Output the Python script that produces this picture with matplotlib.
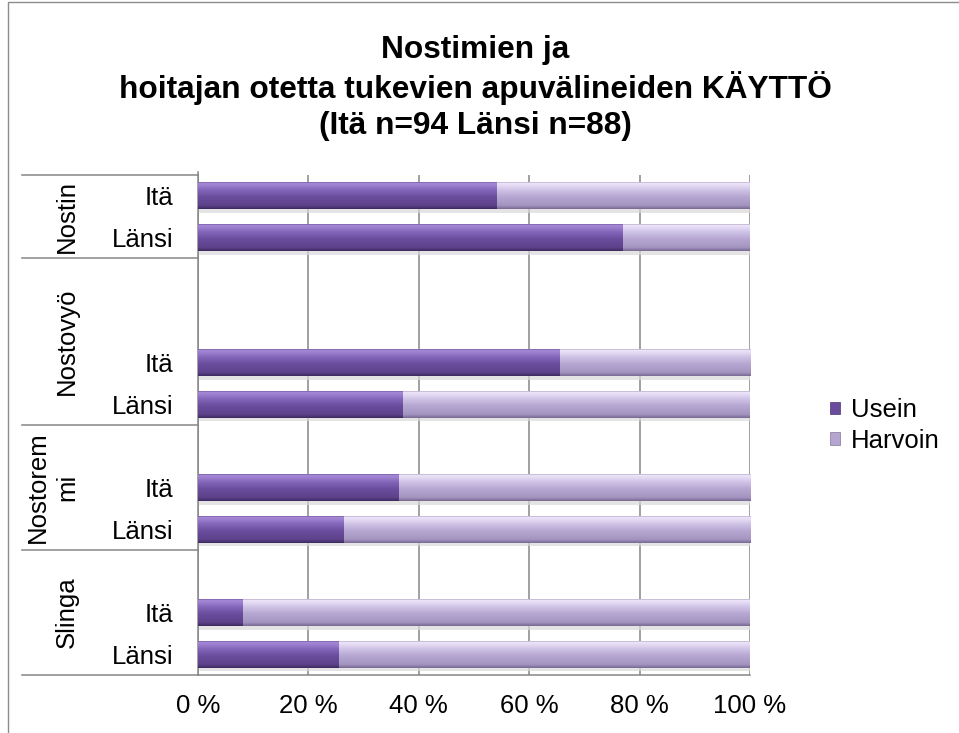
import numpy as np
import matplotlib
matplotlib.use("Agg")
import matplotlib.pyplot as plt
import matplotlib.transforms as mtransforms
from matplotlib.colors import LinearSegmentedColormap
from matplotlib.patches import Rectangle

plt.rcParams['font.family'] = ['Liberation Sans', 'DejaVu Sans']

# ---------------- data ----------------
title = "Nostimien ja\nhoitajan otetta tukevien apuvälineiden KÄYTTÖ\n(Itä n=94 Länsi n=88)"
groups = ["Nostin", "Nostovyö", "Nostorem\nmi", "Slinga"]
group_sizes = [2, 4, 3, 3]
row_labels = ["Itä", "Länsi", "", "", "Itä", "Länsi", "", "Itä", "Länsi", "", "Itä", "Länsi"]
usein = [54.2, 77.0, None, None, 65.5, 37.2, None, 36.4, 26.4, None, 8.2, 25.6]
harvoin = [45.8, 23.0, None, None, 34.5, 62.8, None, 63.6, 73.6, None, 91.8, 74.4]
series_names = ["Usein", "Harvoin"]
xticks = [0, 20, 40, 60, 80, 100]
xtick_labels = ["0 %", "20 %", "40 %", "60 %", "80 %", "100 %"]

# ---------------- style ----------------
c_usein = "#6a4c9c"
c_harvoin = "#b5a5d1"
grad_usein = LinearSegmentedColormap.from_list("u", [
    (0.0, "#4a3474"), (0.07, "#a88bd8"), (0.32, "#8366b9"),
    (0.58, "#6a4c9c"), (0.88, "#5d428b"), (1.0, "#3d2a60")])
grad_harvoin = LinearSegmentedColormap.from_list("h", [
    (0.0, "#857699"), (0.07, "#efe7fb"), (0.32, "#cec2e6"),
    (0.58, "#b5a5d1"), (0.88, "#a394c0"), (1.0, "#786a93")])
gray = "#868686"
fs = 18.5

fig = plt.figure(figsize=(9.59, 7.33), dpi=100)
ax = fig.add_axes([198 / 959, 58 / 733, 552 / 959, 500 / 733])

y = np.arange(len(row_labels))
idx = [i for i, v in enumerate(usein) if v is not None]
bh = 0.65
b1 = ax.barh([y[i] for i in idx], [usein[i] for i in idx], height=bh,
             color=c_usein, zorder=3, linewidth=0)
b2 = ax.barh([y[i] for i in idx], [harvoin[i] for i in idx],
             left=[usein[i] for i in idx], height=bh,
             color=c_harvoin, zorder=3, linewidth=0)

grad = np.linspace(0, 1, 64).reshape(-1, 1)
for bars, cmap in ((b1, grad_usein), (b2, grad_harvoin)):
    for p in bars:
        x0, y0, w, h = p.get_x(), p.get_y(), p.get_width(), p.get_height()
        im = ax.imshow(grad, cmap=cmap, extent=(x0, x0 + w, y0 + h, y0),
                       aspect='auto', origin='upper', zorder=4,
                       interpolation='bilinear')
        im.set_clip_path(p)
        # soft shadow below the bar
        ax.add_patch(Rectangle((x0, y0 + h), w, 0.09, facecolor="#d9d9d9",
                               edgecolor='none', alpha=0.7, zorder=2))

ax.set_xlim(0, 100)
ax.set_ylim(len(row_labels) - 0.5, -0.5)

ax.set_xticks(xticks, xtick_labels)
ax.set_yticks(y, row_labels)
ax.tick_params(axis='x', length=0, pad=14, labelsize=fs)
ax.tick_params(axis='y', length=0, pad=18, labelsize=fs)
ax.set_axisbelow(True)
ax.xaxis.grid(True, color=gray, lw=1.1)
for s in ("top", "right"):
    ax.spines[s].set_visible(False)
for s in ("left", "bottom"):
    ax.spines[s].set_color(gray)
    ax.spines[s].set_linewidth(1.1)

# multi-level category axis
trans = mtransforms.blended_transform_factory(ax.transAxes, ax.transData)
xl = (22 - 198) / 552
bounds = np.concatenate([[0], np.cumsum(group_sizes)]) - 0.5
for b in bounds:
    ax.plot([xl, 0], [b, b], transform=trans, color=gray, lw=1.1,
            clip_on=False, zorder=5)
ax.plot([0, 0], [-0.5 - 0.07, -0.5], transform=trans, color=gray, lw=1.1,
        clip_on=False)
for g, lo, hi in zip(groups, bounds[:-1], bounds[1:]):
    gx = (52.5 - 198) / 552 if "\n" in g else (67 - 198) / 552
    ax.text(gx, (lo + hi) / 2, g, transform=trans, rotation=90,
            ha='center', va='center', multialignment='center',
            fontsize=fs, linespacing=1.25)

# legend
handles = [Rectangle((0, 0), 1, 1, facecolor=c_usein, edgecolor="#4a3474", lw=0.5),
           Rectangle((0, 0), 1, 1, facecolor=c_harvoin, edgecolor="#857699", lw=0.5)]
fig.legend(handles, series_names, loc='center left',
           bbox_to_anchor=(830 / 959, 1 - 425.5 / 733), frameon=False,
           fontsize=fs, handlelength=0.38, handleheight=0.38,
           handletextpad=0.45, labelspacing=0.25, borderpad=0, borderaxespad=0)

# title
fig.text(475 / 959, 1 - 88 / 733, title, ha='center', va='center',
         fontsize=22.8, fontweight='bold', linespacing=1.24)

# chart frame
fig.add_artist(Rectangle((8 / 959, -0.5), 2, 1.5 - 1.5 / 733,
                         transform=fig.transFigure, fill=False,
                         edgecolor="#8c8c8c", lw=1))

fig.savefig("out.png", dpi=100)
